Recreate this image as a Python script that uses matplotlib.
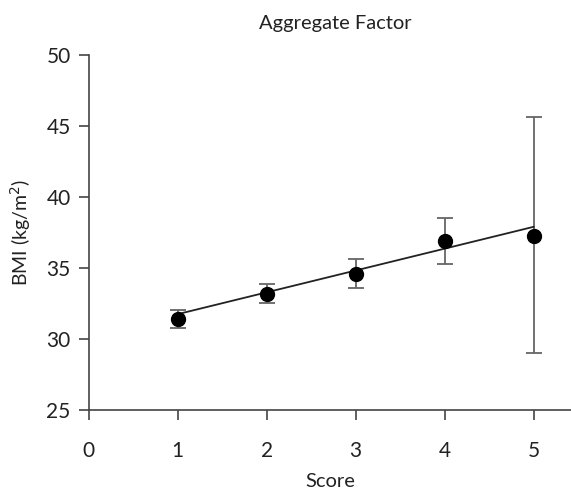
import matplotlib
matplotlib.use("Agg")
import matplotlib.pyplot as plt

# valores
score = [1, 2, 3, 4, 5]
bmi_mean = [31.4, 33.2, 34.6, 36.9, 37.25]
bmi_upper = [32.05, 33.85, 35.6, 38.5, 45.6]
bmi_lower = [30.75, 32.55, 33.6, 35.25, 29.0]
fit_x = [1, 5]
fit_y = [31.75, 37.9]

xticks = [0, 1, 2, 3, 4, 5]
yticks = [25, 30, 35, 40, 45, 50]

plt.rcParams['font.family'] = ['Lato', 'DejaVu Sans']

fig = plt.figure(figsize=(5.71, 4.91), dpi=100)
ax = fig.add_axes([0.1555, 0.165, 0.8445, 0.723])

err_lo = [m - l for m, l in zip(bmi_mean, bmi_lower)]
err_hi = [u - m for m, u in zip(bmi_mean, bmi_upper)]

ax.plot(fit_x, fit_y, color="#222222", lw=1.3, zorder=2)
ax.errorbar(score, bmi_mean, yerr=[err_lo, err_hi], fmt="none",
            ecolor="#666666", elinewidth=1.3, capsize=6, capthick=1.3, zorder=1)
ax.plot(score, bmi_mean, "o", color="black", markersize=10, zorder=3)

ax.set_xlim(0, 5.42)
ax.set_ylim(25, 50)
ax.set_xticks(xticks)
ax.set_yticks(yticks)

for s in ["top", "right"]:
    ax.spines[s].set_visible(False)
for s in ["left", "bottom"]:
    ax.spines[s].set_color("#444444")
    ax.spines[s].set_linewidth(1.2)

ax.tick_params(axis="both", direction="out", length=7, width=1.2,
               color="#444444", labelsize=15, labelcolor="#222222")
ax.tick_params(axis="x", pad=15)
ax.tick_params(axis="y", pad=6)

ax.set_xlabel("Score", fontsize=14.5, color="#222222", labelpad=9)
ax.set_ylabel("BMI (kg/m$^2$)", fontsize=14, color="#222222", labelpad=10)
fig.text(0.587, 0.953, "Aggregate Factor", ha="center", va="center",
         fontsize=14.5, color="#222222")

fig.savefig("out.png", dpi=100)
